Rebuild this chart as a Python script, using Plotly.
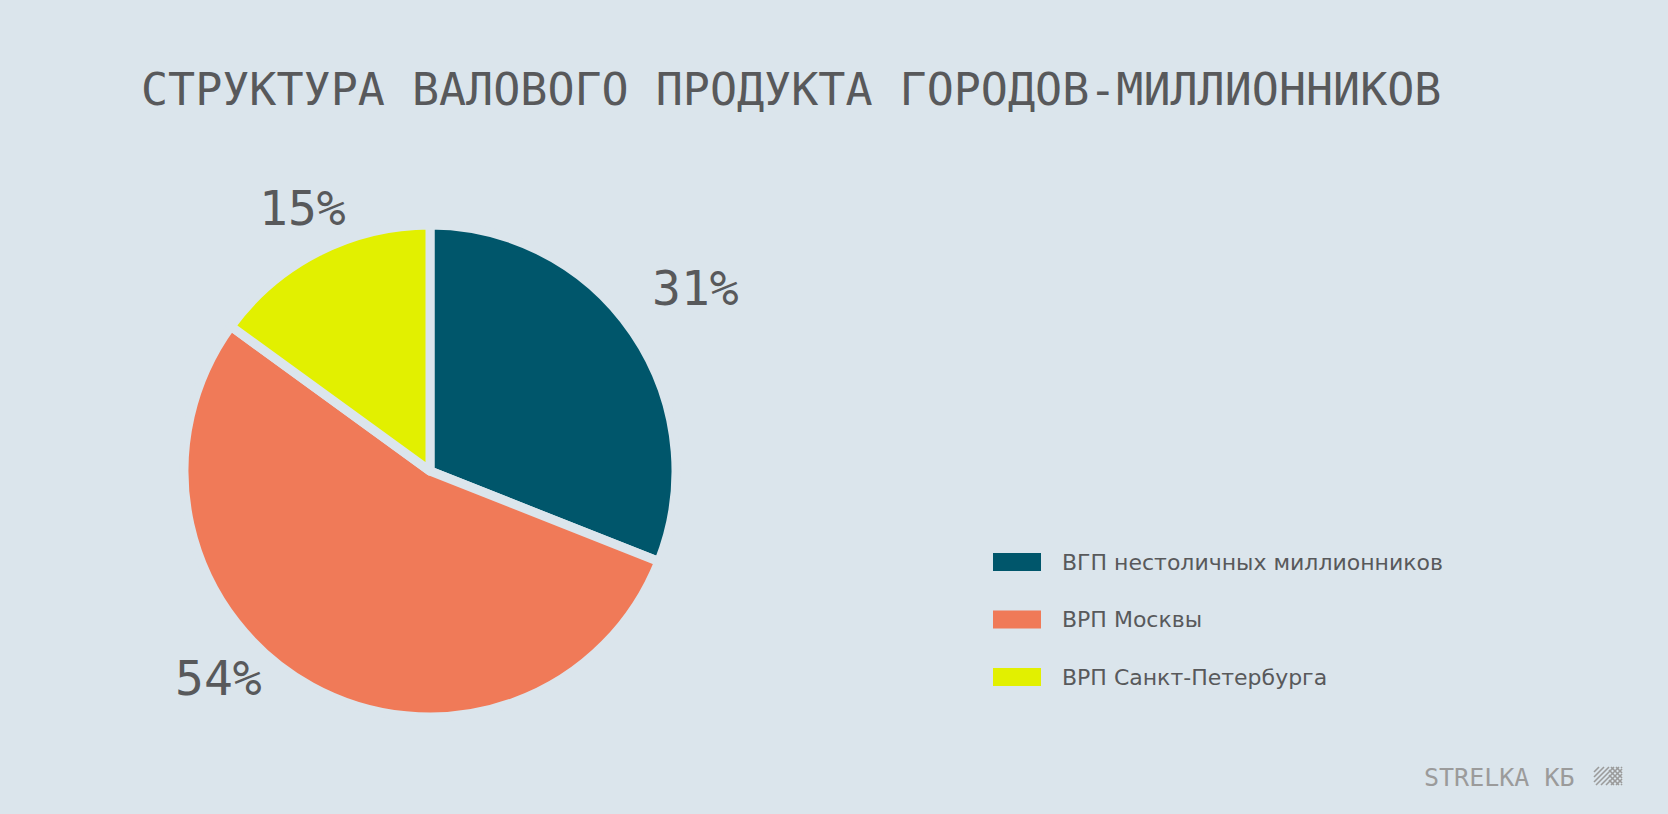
import plotly.graph_objects as go

# data
labels = ["ВГП нестоличных миллионников", "ВРП Москвы", "ВРП Санкт-Петербурга"]
shares = [31, 54, 15]
colors = ["#00566b", "#f07a58", "#e2f000"]
title_text = "СТРУКТУРА ВАЛОВОГО ПРОДУКТА ГОРОДОВ-МИЛЛИОННИКОВ"
brand = "STRELKA КБ"

W, H = 1668, 814
BG = "#dbe5ec"
TXT = "#58595b"
GREY = "#9b9b9b"


def px(x):
    return x / W


def py(y):
    return 1 - y / H


# pie centre / radius in pixels (radius includes half of the gap stroke)
cx, cy, r = 430, 471, 246

fig = go.Figure(go.Pie(
    labels=labels,
    values=shares,
    sort=False,
    direction="clockwise",
    rotation=0,
    marker=dict(colors=colors, line=dict(color=BG, width=9)),
    textinfo="none",
    hoverinfo="label+percent",
    domain=dict(x=[px(cx - r), px(cx + r)], y=[py(cy + r), py(cy - r)]),
    showlegend=False,
))

annotations = []
shapes = []

# title
annotations.append(dict(
    text=title_text, x=px(139), y=py(89), xref="paper", yref="paper",
    xanchor="left", yanchor="middle", showarrow=False,
    font=dict(family="DejaVu Sans Mono", size=45, color=TXT),
))

# percentage labels (pixel centres of the text)
label_pos = [(695, 288), (218, 678), (302, 208)]
for v, (lx, ly) in zip(shares, label_pos):
    annotations.append(dict(
        text=f"{v}%", x=px(lx), y=py(ly), xref="paper", yref="paper",
        xanchor="center", yanchor="middle", showarrow=False,
        font=dict(family="DejaVu Sans Mono", size=48, color=TXT),
    ))

# hand-made legend with wide swatches
for i, (lab, col) in enumerate(zip(labels, colors)):
    yc = 562 + i * 57.5
    shapes.append(dict(
        type="rect", xref="paper", yref="paper",
        x0=px(993), x1=px(1041), y0=py(yc + 9), y1=py(yc - 9),
        fillcolor=col, line=dict(width=0),
    ))
    annotations.append(dict(
        text=lab, x=px(1060), y=py(yc), xref="paper", yref="paper",
        xanchor="left", yanchor="middle", showarrow=False,
        font=dict(family="DejaVu Sans", size=22, color=TXT),
    ))

# brand mark
annotations.append(dict(
    text=brand, x=px(1422), y=py(777), xref="paper", yref="paper",
    xanchor="left", yanchor="middle", showarrow=False,
    font=dict(family="DejaVu Sans Mono", size=25, color=GREY),
))


def hatch(x0, y0, x1, y1, step, back=False):
    out = []
    if not back:
        c = x0 + y0
        while c <= x1 + y1:
            xa, xb = max(x0, c - y1), min(x1, c - y0)
            if xb > xa:
                out.append((xa, c - xa, xb, c - xb))
            c += step
    else:
        c = x0 - y1
        while c <= x1 - y0:
            xa, xb = max(x0, c + y0), min(x1, c + y1)
            if xb > xa:
                out.append((xa, xa - c, xb, xb - c))
            c += step
    return out


segs = hatch(1594, 767, 1622, 785, 5) + hatch(1609, 767, 1622, 785, 5, back=True)
for xa, ya, xb, yb in segs:
    shapes.append(dict(
        type="line", xref="paper", yref="paper",
        x0=px(xa), y0=py(ya), x1=px(xb), y1=py(yb),
        line=dict(color=GREY, width=1.6),
    ))

fig.update_layout(
    width=W, height=H,
    margin=dict(l=0, r=0, t=0, b=0),
    paper_bgcolor=BG, plot_bgcolor=BG,
    annotations=annotations,
    shapes=shapes,
)

fig.write_html("out.html", config={"displayModeBar": False},
               post_script="document.body.style.margin='0';")
